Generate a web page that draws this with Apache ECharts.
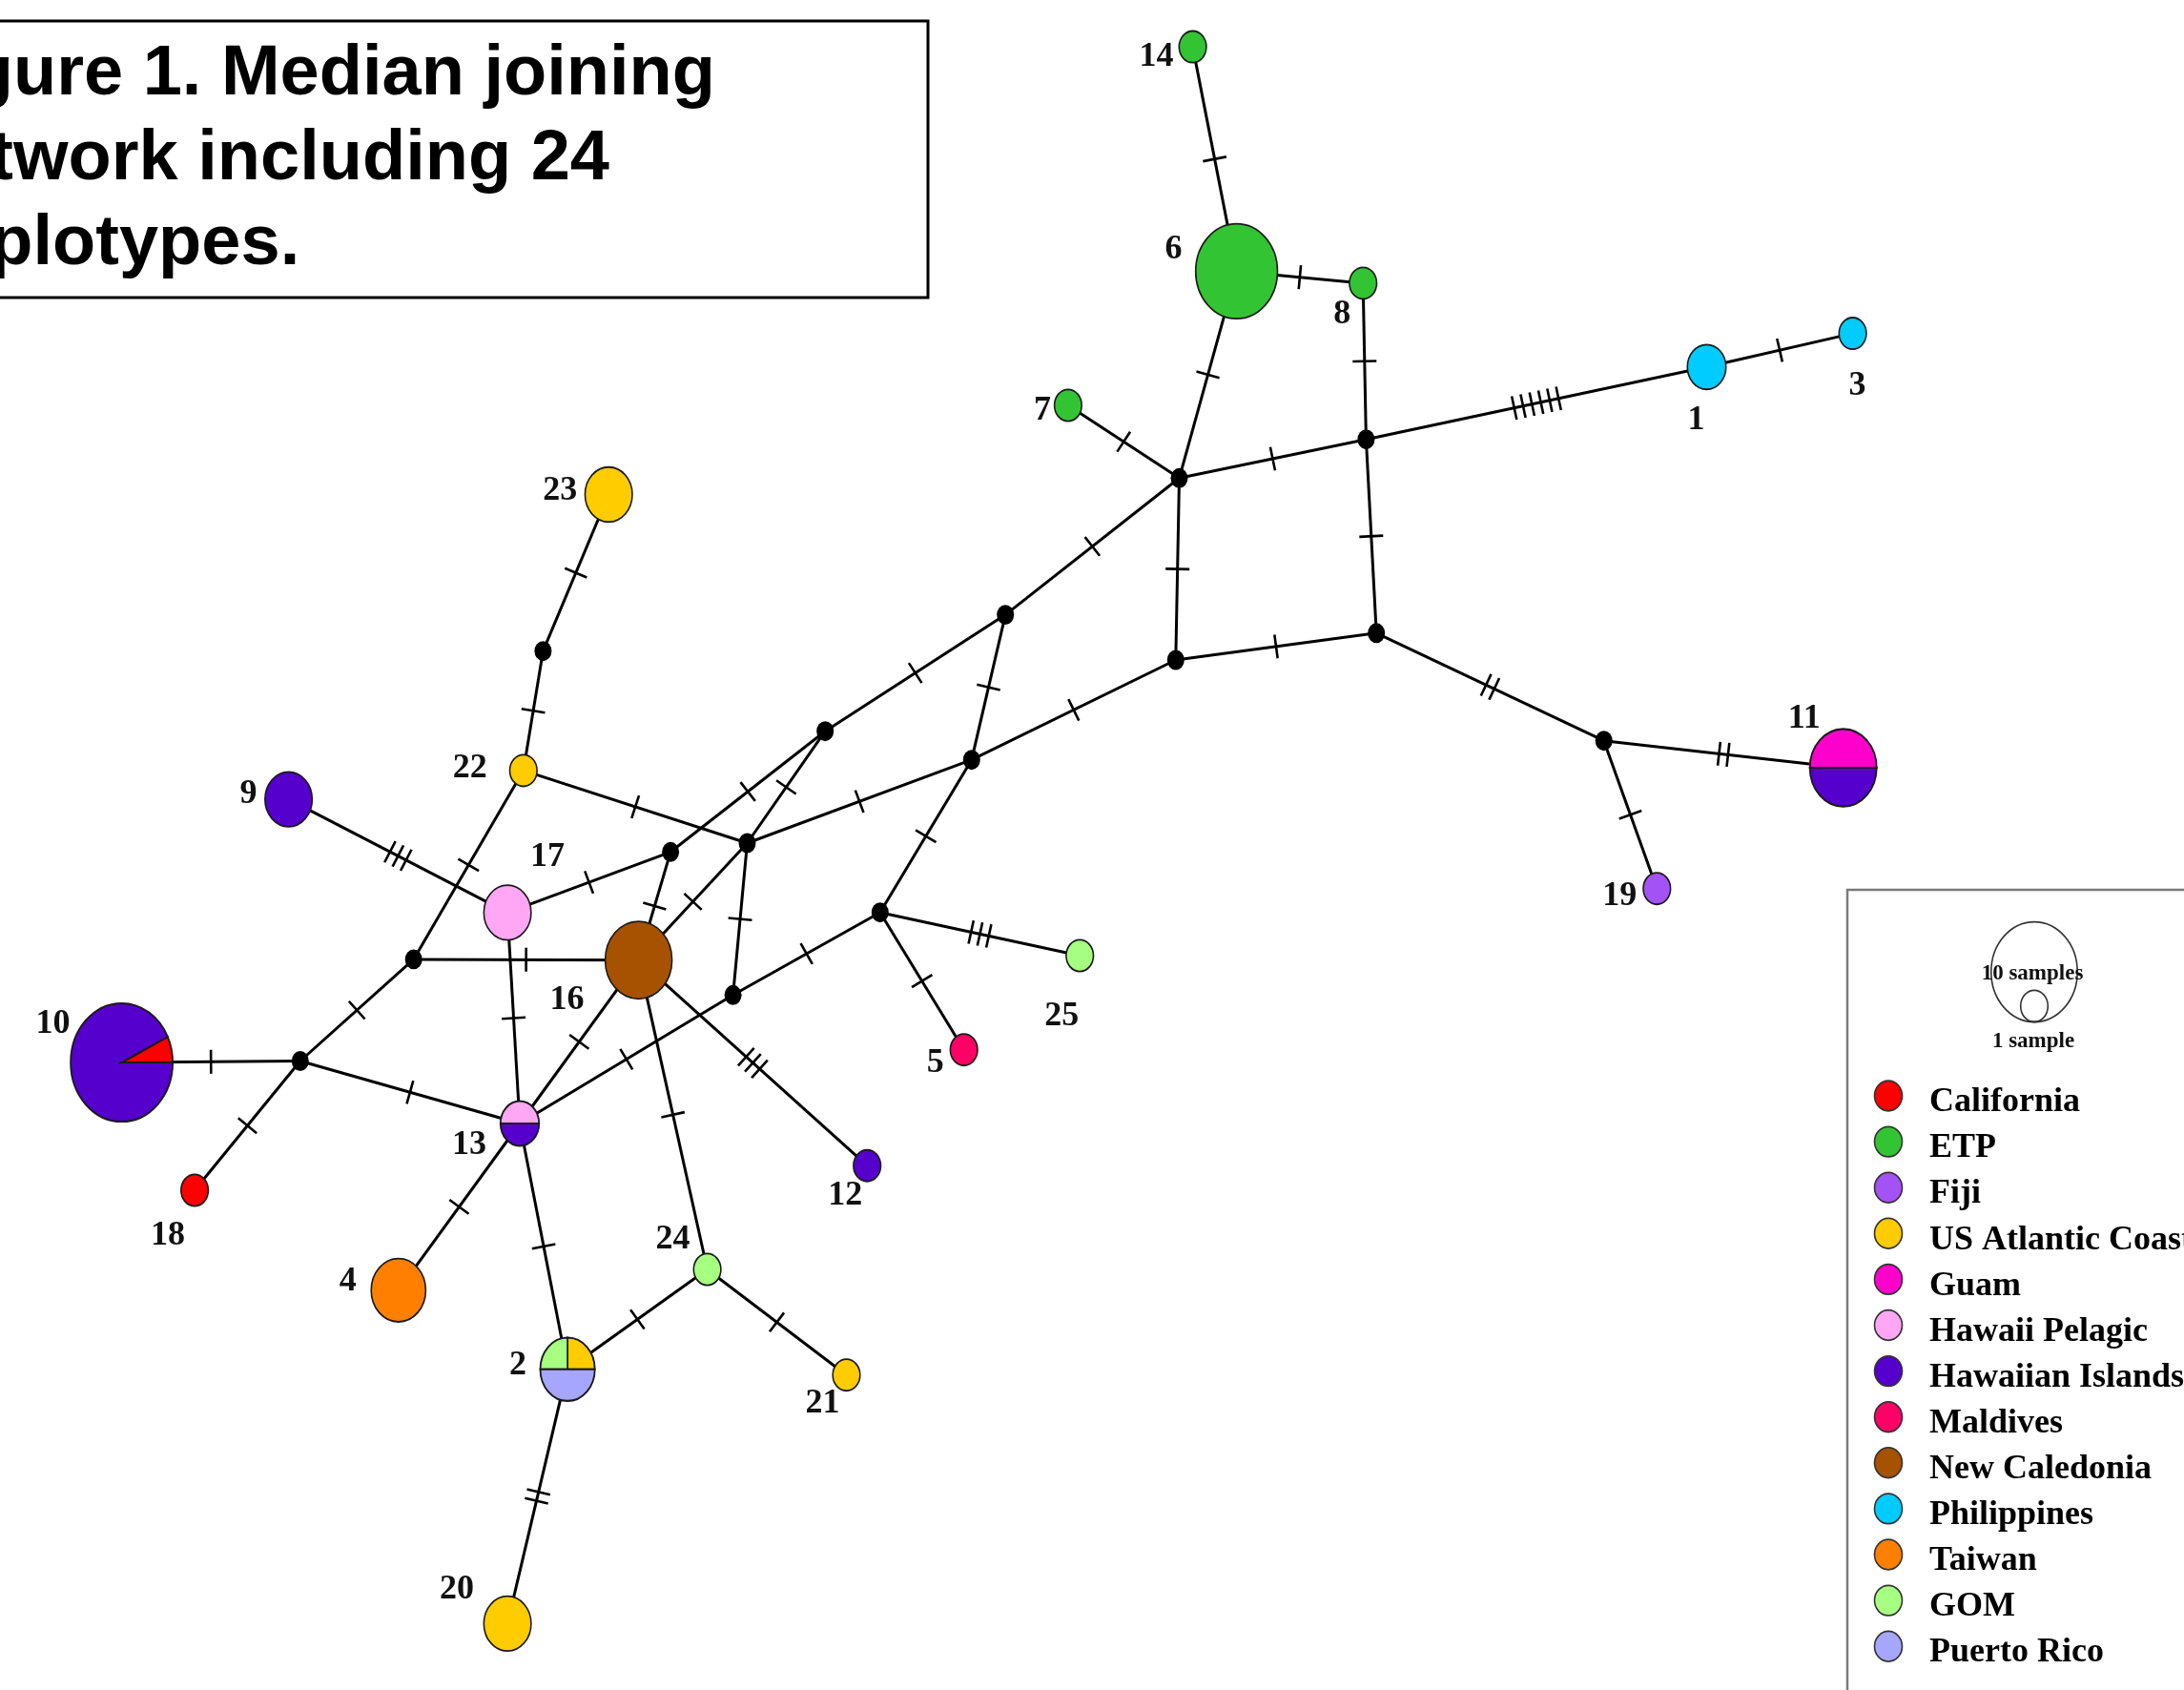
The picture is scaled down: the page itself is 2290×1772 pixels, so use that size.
<!DOCTYPE html>
<html>
<head>
<meta charset="utf-8">
<title>Median joining network</title>
<script src="https://cdn.jsdelivr.net/npm/echarts@6/dist/echarts.min.js"></script>
<style>
  html, body { margin: 0; padding: 0; background: #ffffff; }
  #chart { width: 2290px; height: 1772px; }
</style>
</head>
<body>
<div id="chart"></div>
<script>
// ---- Sampling regions ----
const regionNames = ['California', 'ETP', 'Fiji', 'US Atlantic Coast', 'Guam', 'Hawaii Pelagic',
  'Hawaiian Islands', 'Maldives', 'New Caledonia', 'Philippines', 'Taiwan', 'GOM', 'Puerto Rico'];
const regionColors = ['#ff0000', '#33c433', '#a352f5', '#ffcc00', '#ff00cc', '#ffa6f5',
  '#5500cc', '#ff0066', '#a65200', '#00ccff', '#ff8000', '#a6ff80', '#a6a6ff'];

// ---- Haplotypes: layout position, regional composition and sample counts ----
const haplotypeIds = ['1', '2', '3', '4', '5', '6', '7', '8', '9', '10', '11', '12',
  '13', '14', '16', '17', '18', '19', '20', '21', '22', '23', '24', '25'];
const haplotypeX = [1789.5, 595.1, 1942.6, 417.8, 1010.7, 1296.6, 1119.9, 1429.2, 302.6, 127.6, 1932.7, 909.2,
  545.0, 1250.6, 669.6, 532.1, 204.1, 1737.3, 532.1, 887.5, 548.8, 638.2, 741.6, 1132.2];
const haplotypeY = [384.8, 1435.7, 349.6, 1352.8, 1100.7, 284.4, 425.0, 296.9, 838.1, 1114.0, 805.0, 1222.2,
  1178.0, 49.1, 1006.7, 956.9, 1248.0, 931.7, 1702.4, 1441.7, 807.9, 518.5, 1331.0, 1002.0];
const haplotypeRegions = [
  ['Philippines'], ['US Atlantic Coast', 'GOM', 'Puerto Rico'], ['Philippines'], ['Taiwan'],
  ['Maldives'], ['ETP'], ['ETP'], ['ETP'], ['Hawaiian Islands'], ['California', 'Hawaiian Islands'],
  ['Guam', 'Hawaiian Islands'], ['Hawaiian Islands'], ['Hawaii Pelagic', 'Hawaiian Islands'], ['ETP'],
  ['New Caledonia'], ['Hawaii Pelagic'], ['California'], ['Fiji'], ['US Atlantic Coast'],
  ['US Atlantic Coast'], ['US Atlantic Coast'], ['US Atlantic Coast'], ['GOM'], ['GOM']
];
const haplotypeCounts = [
  [2], [1, 1, 2], [1], [4], [1], [9], [1], [1], [3], [1, 13], [3, 3], [1], [1, 1], [1],
  [6], [3], [1], [1], [3], [1], [1], [3], [1], [1]
];

// ---- Median vectors (inferred, unsampled haplotypes) ----
const medianIds = ['mA', 'mB', 'mC', 'mD', 'mE', 'mF', 'mG', 'mH', 'mI', 'mJ', 'mK', 'mL', 'mM', 'mN', 'mO'];
const medianX = [1236.5, 1432.4, 1232.8, 1054.2, 1443.2, 1018.8, 1681.7, 865.2, 783.5, 922.8, 703.1, 768.6, 433.7, 314.8, 569.4];
const medianY = [501.3, 460.7, 692.0, 644.6, 663.8, 796.7, 776.7, 766.7, 884.0, 956.7, 893.3, 1043.3, 1005.9, 1112.5, 682.7];

// ---- Network links and number of mutational steps on each ----
const edgeFrom = ['14', '6', '6', '7', '8', 'mA', 'mB', '1', 'mA', 'mB', 'mC', 'mE', 'mG', 'mG',
  'mA', 'mD', 'mD', 'mC', 'mF', 'mF', 'mJ', 'mJ', 'mJ', 'mI', 'mI', 'mI', 'mI', 'mH', 'mK', 'mK',
  'mL', '16', '16', '16', '17', '17', '22', '22', 'mO', 'mM', 'mM', 'mN', 'mN', 'mN', '13', '13',
  '2', '24', '2'];
const edgeTo = ['6', '8', 'mA', 'mA', 'mB', 'mB', '1', '3', 'mC', 'mE', 'mE', 'mG', '11', '19',
  'mD', 'mH', 'mF', 'mF', 'mI', 'mJ', '25', '5', 'mL', 'mL', '22', 'mH', '16', 'mK', '17', '16',
  '13', '13', '12', '24', '9', '13', 'mM', 'mO', '23', '16', 'mN', '10', '18', '13', '4', '2',
  '24', '21', '20'];
const edgeMutations = [1, 1, 1, 1, 1, 1, 6, 1, 1, 1, 1, 2, 2, 1,
  1, 1, 1, 1, 1, 1, 3, 1, 1, 1, 1, 1, 1, 1, 1, 1,
  1, 1, 3, 1, 3, 1, 1, 1, 1, 1, 1, 1, 1, 1, 1, 1,
  1, 1, 2];

// ---- Text ----
const titleLines = ['Figure 1. Median joining', 'network including 24', 'haplotypes.'];
const sizeLegendSamples = [10, 1];
const sizeLegendLabels = ['10 samples', '1 sample'];

// ---- Drawing styles ----
const SERIF = '"Liberation Serif", "Times New Roman", Times, serif';
const SANS = '"Liberation Sans", Arial, Helvetica, sans-serif';
const RX_PER_SQRT_SAMPLE = 14.3;   // horizontal radius of a one-sample node
const ASPECT = 1.16;               // nodes are drawn slightly taller than wide
const MEDIAN_RX = 9;
const TICK_HALF = 12.5;
const TICK_GAP = 9.5;

// label placement relative to each node centre (px)
const labelOffsets = {
  '1': [-11, 56], '2': [-52, -4], '3': [5, 55], '4': [-53, -9], '5': [-30, 14], '6': [-66, -23],
  '7': [-27, 6], '8': [-22, 33], '9': [-42, -5], '10': [-72, -40], '11': [-41, -51], '12': [-23, 32],
  '13': [-53, 23], '14': [-38, 11], '16': [-75, 42], '17': [42, -58], '18': [-28, 48], '19': [-39, 8],
  '20': [-53, -36], '21': [-25, 30], '22': [-56, -2], '23': [-51, -4], '24': [-36, -31], '25': [-19, 64]
};

const regionColor = {};
regionNames.forEach((n, i) => { regionColor[n] = regionColors[i]; });

const nodePos = {};
haplotypeIds.forEach((id, i) => { nodePos[id] = [haplotypeX[i], haplotypeY[i]]; });
medianIds.forEach((id, i) => { nodePos[id] = [medianX[i], medianY[i]]; });

const edgeData = edgeFrom.map((f, i) => {
  const a = nodePos[f], b = nodePos[edgeTo[i]];
  return [a[0], a[1], b[0], b[1], edgeMutations[i]];
});
const medianData = medianIds.map((id, i) => [medianX[i], medianY[i]]);
const haplotypeData = haplotypeIds.map((id, i) => [haplotypeX[i], haplotypeY[i], i]);

function renderEdge(params, api) {
  const p0 = api.coord([api.value(0), api.value(1)]);
  const p1 = api.coord([api.value(2), api.value(3)]);
  const k = api.value(4);
  const children = [{
    type: 'line',
    shape: { x1: p0[0], y1: p0[1], x2: p1[0], y2: p1[1] },
    style: { stroke: '#000', lineWidth: 3 }
  }];
  const dx = p1[0] - p0[0], dy = p1[1] - p0[1];
  const len = Math.hypot(dx, dy);
  const ux = dx / len, uy = dy / len, nx = -uy, ny = ux;
  const mx = (p0[0] + p1[0]) / 2, my = (p0[1] + p1[1]) / 2;
  for (let t = 0; t < k; t++) {
    const off = (t - (k - 1) / 2) * TICK_GAP;
    const cx = mx + ux * off, cy = my + uy * off;
    children.push({
      type: 'line',
      shape: { x1: cx - nx * TICK_HALF, y1: cy - ny * TICK_HALF, x2: cx + nx * TICK_HALF, y2: cy + ny * TICK_HALF },
      style: { stroke: '#000', lineWidth: 2.6 }
    });
  }
  return { type: 'group', children };
}

function renderMedian(params, api) {
  const p = api.coord([api.value(0), api.value(1)]);
  const unit = api.size([1, 0])[0];
  return {
    type: 'group', x: p[0], y: p[1], scaleY: ASPECT,
    children: [{ type: 'circle', shape: { cx: 0, cy: 0, r: MEDIAN_RX * unit }, style: { fill: '#000' } }]
  };
}

function renderHaplotype(params, api) {
  const p = api.coord([api.value(0), api.value(1)]);
  const i = api.value(2);
  const unit = api.size([1, 0])[0];
  const regions = haplotypeRegions[i];
  const counts = haplotypeCounts[i];
  const total = counts.reduce((s, c) => s + c, 0);
  const r = RX_PER_SQRT_SAMPLE * Math.sqrt(total) * unit;
  const parts = [];
  if (regions.length === 1) {
    parts.push({
      type: 'circle', shape: { cx: 0, cy: 0, r },
      style: { fill: regionColor[regions[0]], stroke: '#1a1a1a', lineWidth: 1.6, strokeNoScale: true }
    });
  } else {
    // segments run anticlockwise from the 3 o'clock direction
    let a0 = 0;
    regions.forEach((reg, j) => {
      const a1 = a0 + 2 * Math.PI * counts[j] / total;
      parts.push({
        type: 'sector',
        shape: { cx: 0, cy: 0, r, r0: 0, startAngle: 2 * Math.PI - a1, endAngle: 2 * Math.PI - a0, clockwise: true },
        style: { fill: regionColor[reg], stroke: '#1a1a1a', lineWidth: 1.8, strokeNoScale: true }
      });
      a0 = a1;
    });
  }
  const id = haplotypeIds[i];
  const off = labelOffsets[id];
  return {
    type: 'group',
    children: [
      { type: 'group', x: p[0], y: p[1], scaleY: ASPECT, children: parts },
      {
        type: 'text', x: p[0] + off[0], y: p[1] + off[1],
        style: { text: id, font: 'bold 36px ' + SERIF, fill: '#111', align: 'center', verticalAlign: 'middle' }
      }
    ]
  };
}

// ---- Static annotation: caption box and region key ----
const graphics = [];
graphics.push({
  type: 'rect', shape: { x: -10, y: 22, width: 983, height: 290 },
  style: { fill: '#fff', stroke: '#000', lineWidth: 3 }, z: 10
});
titleLines.forEach((line, i) => {
  graphics.push({
    type: 'text', x: -97, y: 79 + i * 89, z: 11,
    style: { text: line, font: 'bold 74px ' + SANS, fill: '#000', align: 'left', verticalAlign: 'middle' }
  });
});

graphics.push({
  type: 'rect', shape: { x: 1937, y: 933, width: 420, height: 900 },
  style: { fill: '#fff', stroke: '#7a7a7a', lineWidth: 2.5 }, z: 10
});
// sample-size key: circles share a common bottom edge
const keyCx = 2133, keyBottom = 1071.5;
sizeLegendSamples.forEach((n) => {
  const rx = RX_PER_SQRT_SAMPLE * Math.sqrt(n);
  graphics.push({
    type: 'group', x: keyCx, y: keyBottom - rx * ASPECT, scaleY: ASPECT, z: 11,
    children: [{ type: 'circle', z: 11, shape: { cx: 0, cy: 0, r: rx },
      style: { fill: 'none', stroke: '#333', lineWidth: 1.6, strokeNoScale: true } }]
  });
});
graphics.push({
  type: 'text', x: 2131, y: 1021, z: 12,
  style: { text: sizeLegendLabels[0], font: 'bold 23px ' + SERIF, fill: '#111', align: 'center', verticalAlign: 'middle' }
});
graphics.push({
  type: 'text', x: 2132, y: 1092, z: 12,
  style: { text: sizeLegendLabels[1], font: 'bold 23px ' + SERIF, fill: '#111', align: 'center', verticalAlign: 'middle' }
});
regionNames.forEach((name, i) => {
  const y = 1149 + i * 48.1;
  graphics.push({
    type: 'group', x: 1980, y: y, scaleY: 1.09, z: 11,
    children: [{ type: 'circle', z: 11, shape: { cx: 0, cy: 0, r: 14.5 },
      style: { fill: regionColors[i], stroke: '#333', lineWidth: 1.6, strokeNoScale: true } }]
  });
  graphics.push({
    type: 'text', x: 2023, y: y + 7, z: 11,
    style: { text: name, font: 'bold 36px ' + SERIF, fill: '#000', align: 'left', verticalAlign: 'middle' }
  });
});

const chart = echarts.init(document.getElementById('chart'), null, { renderer: 'canvas' });
chart.setOption({
  backgroundColor: '#ffffff',
  animation: false,
  grid: { left: 0, right: 0, top: 0, bottom: 0 },
  xAxis: { type: 'value', min: 0, max: 2290, show: false },
  yAxis: { type: 'value', min: 0, max: 1772, inverse: true, show: false },
  series: [
    { type: 'custom', name: 'links', renderItem: renderEdge, data: edgeData,
      encode: { x: [0, 2], y: [1, 3] }, silent: true, z: 1 },
    { type: 'custom', name: 'median vectors', renderItem: renderMedian, data: medianData,
      encode: { x: 0, y: 1 }, silent: true, z: 2 },
    { type: 'custom', name: 'haplotypes', renderItem: renderHaplotype, data: haplotypeData,
      encode: { x: 0, y: 1 }, silent: true, z: 3 }
  ],
  graphic: graphics
});
</script>
</body>
</html>
